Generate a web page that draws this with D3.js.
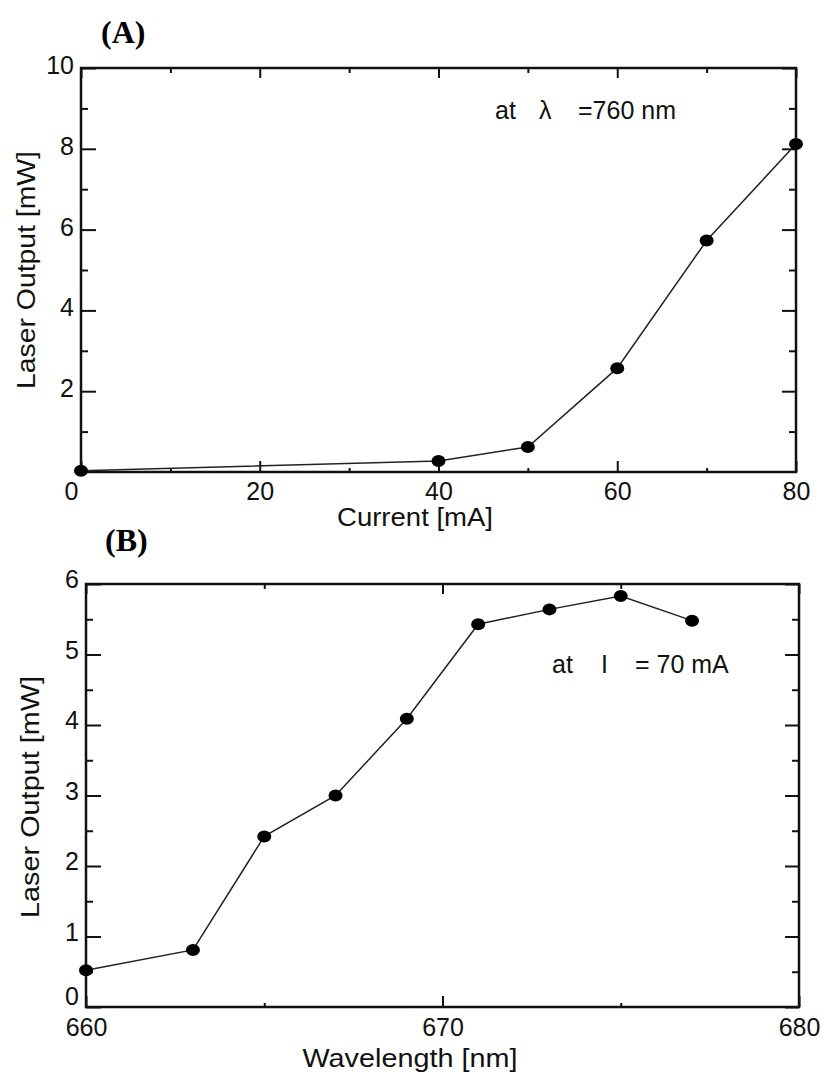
<!DOCTYPE html>
<html>
<head>
<meta charset="utf-8">
<script src="https://cdn.jsdelivr.net/npm/d3@7"></script>
<style>
  html, body { margin: 0; padding: 0; background: #fff; }
  svg { display: block; }
</style>
</head>
<body>
<svg id="chart" width="823" height="1074"></svg>
<script>
// panel A: laser output vs current
const currentMA = [0, 40, 50, 60, 70, 80];
const outputA = [0.03, 0.27, 0.62, 2.57, 5.73, 8.12];
const xTicksA = [0, 20, 40, 60, 80];
const xMinorA = [10, 30, 50, 70];
const yTicksA = [2, 4, 6, 8, 10];
const yMinorA = [1, 3, 5, 7, 9];

// panel B: laser output vs wavelength
const wavelengthNm = [660, 663, 665, 667, 669, 671, 673, 675, 677];
const outputB = [0.52, 0.81, 2.42, 3.0, 4.09, 5.43, 5.64, 5.83, 5.48];
const xTicksB = [660, 670, 680];
const xMinorB = [665, 675];
const yTicksB = [0, 1, 2, 3, 4, 5, 6];
const yMinorB = [0.5, 1.5, 2.5, 3.5, 4.5, 5.5];

const svg = d3.select('#chart');
const sans = '"Liberation Sans", Arial, sans-serif';
const serif = '"Liberation Serif", "Times New Roman", serif';

function panel(opts) {
  const { xr, yr, xDomain, yDomain, xs, ys } = opts;
  const x = d3.scaleLinear().domain(xDomain).range(xr);
  const y = d3.scaleLinear().domain(yDomain).range(yr);
  const g = svg.append('g');

  const tickAxis = (axis, at) => {
    const a = g.append('g').attr('transform', at).call(axis);
    a.select('.domain').remove();
    a.selectAll('line').attr('stroke', '#111').attr('stroke-width', 2);
    a.selectAll('text')
      .attr('font-size', 25)
      .attr('fill', '#111')
      .attr('font-family', sans);
    return a;
  };

  // bottom
  const bx = tickAxis(d3.axisBottom(x).tickValues(opts.xTicks).tickSize(-11).tickPadding(opts.xPad || 10)
    .tickFormat(d3.format('d')), `translate(0,${yr[0]})`);
  if (opts.zeroShift) bx.selectAll('text').filter(d => d === 0).attr('dx', opts.zeroShift);
  tickAxis(d3.axisBottom(x).tickValues(opts.xMinor).tickSize(-4).tickFormat(''), `translate(0,${yr[0]})`);
  // top
  tickAxis(d3.axisTop(x).tickValues(opts.xTicks).tickSize(-10).tickFormat(''), `translate(0,${yr[1]})`);
  tickAxis(d3.axisTop(x).tickValues(opts.xMinor).tickSize(-5).tickFormat(''), `translate(0,${yr[1]})`);
  // left
  const ly = tickAxis(d3.axisLeft(y).tickValues(opts.yTicks).tickSize(-15).tickPadding(7)
    .tickFormat(d3.format('d')), `translate(${xr[0]},0)`);
  ly.selectAll('text').attr('dy', d => (d === 0 && opts.yZeroDy) ? opts.yZeroDy : (opts.yLabelDy || '0.22em'));
  tickAxis(d3.axisLeft(y).tickValues(opts.yMinor).tickSize(-7).tickFormat(''), `translate(${xr[0]},0)`);
  // right
  tickAxis(d3.axisRight(y).tickValues(opts.yTicks).tickSize(-14).tickFormat(''), `translate(${xr[1]},0)`);
  tickAxis(d3.axisRight(y).tickValues(opts.yMinor).tickSize(-7).tickFormat(''), `translate(${xr[1]},0)`);

  // frame
  g.append('rect')
    .attr('x', xr[0]).attr('y', yr[1])
    .attr('width', xr[1] - xr[0]).attr('height', yr[0] - yr[1])
    .attr('fill', 'none').attr('stroke', '#111').attr('stroke-width', 2.5);

  const pts = xs.map((v, i) => [v, ys[i]]);
  g.append('path')
    .datum(pts)
    .attr('d', d3.line().x(d => x(d[0])).y(d => y(d[1])))
    .attr('fill', 'none').attr('stroke', '#222').attr('stroke-width', 1.5);

  g.selectAll('ellipse.pt')
    .data(pts)
    .join('ellipse')
    .attr('class', 'pt')
    .attr('cx', d => x(d[0])).attr('cy', d => y(d[1]))
    .attr('rx', 7).attr('ry', 6)
    .attr('fill', '#000');

  // axis titles
  g.append('text')
    .attr('x', opts.xTitle.x).attr('y', opts.xTitle.y)
    .attr('text-anchor', 'middle').attr('font-size', 25)
    .attr('font-family', sans).attr('fill', '#111')
    .attr('textLength', opts.xTitle.len).attr('lengthAdjust', 'spacingAndGlyphs')
    .text(opts.xTitle.text);

  g.append('text')
    .attr('transform', `translate(${opts.yTitle.x},${opts.yTitle.y}) rotate(-90)`)
    .attr('text-anchor', 'middle').attr('font-size', 25)
    .attr('font-family', sans).attr('fill', '#111')
    .attr('textLength', opts.yTitle.len).attr('lengthAdjust', 'spacingAndGlyphs')
    .text(opts.yTitle.text);

  // panel letter
  svg.append('text')
    .attr('x', opts.letter.x).attr('y', opts.letter.y)
    .style('font-family', serif)
    .style('font-weight', 'bold')
    .style('font-size', '32px')
    .attr('fill', '#000')
    .text(opts.letter.text);

  // annotation
  const ann = g.append('text').attr('y', opts.note.y)
    .attr('font-size', 25).attr('font-family', sans).attr('fill', '#111');
  opts.note.parts.forEach(p => {
    ann.append('tspan').attr('x', p[0]).text(p[1]);
  });
}

panel({
  xr: [81, 796], yr: [472, 68],
  xDomain: [0, 80], yDomain: [0, 10],
  xs: currentMA, ys: outputA,
  xTicks: xTicksA, xMinor: xMinorA, yTicks: yTicksA, yMinor: yMinorA,
  zeroShift: -10,
  xTitle: { text: 'Current [mA]', x: 415, y: 526, len: 156 },
  yTitle: { text: 'Laser Output [mW]', x: 35, y: 270, len: 238 },
  letter: { text: '(A)', x: 101, y: 43 },
  note: { y: 119, parts: [[495, 'at'], [539, 'λ'], [578, '=760 nm']] }
});

panel({
  xr: [86, 799], yr: [1007, 584],
  xDomain: [660, 680], yDomain: [0, 6],
  xs: wavelengthNm, ys: outputB,
  xTicks: xTicksB, xMinor: xMinorB, yTicks: yTicksB, yMinor: yMinorB,
  yLabelDy: '0.15em', yZeroDy: '-0.1em', xPad: 11,
  xTitle: { text: 'Wavelength [nm]', x: 410, y: 1067, len: 215 },
  yTitle: { text: 'Laser Output [mW]', x: 39, y: 797, len: 242 },
  letter: { text: '(B)', x: 105, y: 551 },
  note: { y: 673, parts: [[552, 'at'], [601, 'I'], [635, '= 70 mA']] }
});
</script>
</body>
</html>
